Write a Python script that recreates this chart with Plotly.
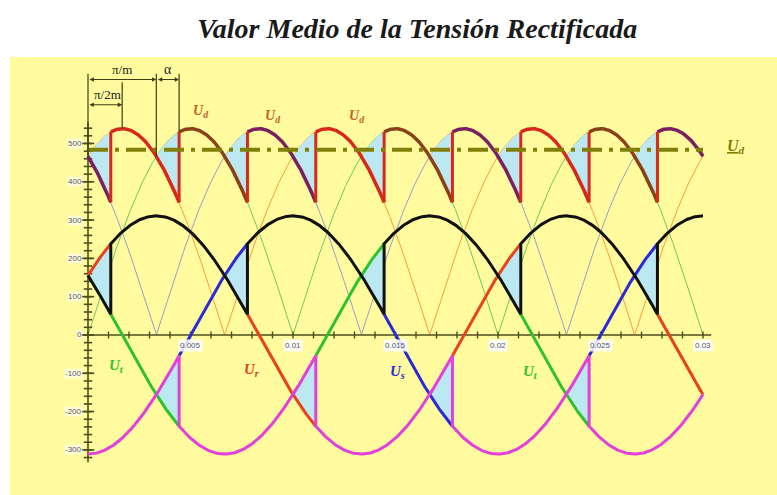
import numpy as np
import plotly.graph_objects as go

# ---------------- converter parameters ----------------
V_PEAK = 311.0          # peak phase voltage [V]
PERIOD = 0.02           # 50 Hz supply
ALPHA_DEG = 20.0        # firing delay angle
T_END = 0.03

# phases R, S, T: colour and instant of positive peak
PHASE_NAMES = ["r", "s", "t"]
PHASE_COLORS = ["#E8421E", "#2B2BD6", "#2EC22E"]
PHASE_PEAK_T = [PERIOD / 6, PERIOD / 2, 5 * PERIOD / 6]

# line voltages |u_i - u_j|: thin reference curves and rectified-segment colours
LINE_PAIRS = [(0, 1), (1, 2), (2, 0)]
LINE_THIN_COLORS = ["#FF9A3C", "#9C9CC8", "#6CCB5E"]
UD_SEGMENT_COLORS = ["#D8281C", "#7A2060", "#8A4018"]

# axis ticks
Y_TICKS = [-300, -200, -100, 0, 100, 200, 300, 400, 500]
X_TICKS = [0.005, 0.01, 0.015, 0.02, 0.025, 0.03]
X_TICK_LABELS = ["0.005", "0.01", "0.015", "0.02", "0.025", "0.03"]
Y_MINOR_STEP = 20
X_MINOR_STEP = 0.001

# phase-label positions (time, voltage)
PHASE_LABEL_T = [0.0014, 0.0080, 0.0151, 0.0216]
PHASE_LABEL_V = [-80, -92, -97, -97]
PHASE_LABEL_IDX = [2, 0, 1, 2]
UD_LABEL_T = [0.0055, 0.0090, 0.0131]
UD_LABEL_V = [583, 570, 570]

FILL_COLOR = "rgba(184,232,246,0.95)"
AXIS_COLOR = "#4E4E1C"
BG_YELLOW = "#FFFB9E"

omega = 2 * np.pi / PERIOD
alpha_t = ALPHA_DEG / 360.0 * PERIOD


def u(p, t):
    return V_PEAK * np.cos(omega * (np.asarray(t, dtype=float) - PHASE_PEAK_T[p]))


def firing_list(offset):
    """Firing instants (time, phase) of one commutation group."""
    out = []
    for p in range(3):
        t0 = PHASE_PEAK_T[p] + offset - PERIOD / 6 + alpha_t
        for k in range(-3, 4):
            tf = t0 + k * PERIOD
            if -PERIOD < tf < T_END:
                out.append((tf, p))
    return sorted(out)


pos_fire = firing_list(0.0)
neg_fire = firing_list(PERIOD / 2)


def active(fires, t):
    cur = None
    for tf, p in fires:
        if tf <= t:
            cur = p
    return cur


events = sorted({tf for tf, _ in pos_fire + neg_fire if 0 < tf < T_END})
bounds = [0.0] + events + [T_END]


def pair_index(a, b):
    s = {a, b}
    for i, (x, y) in enumerate(LINE_PAIRS):
        if {x, y} == s:
            return i


pos_t, pos_v, neg_t, neg_v = [], [], [], []
free_x = {p: [] for p in range(3)}
free_y = {p: [] for p in range(3)}
ud_x = {i: [] for i in range(3)}
ud_y = {i: [] for i in range(3)}
intervals = []
for a, b in zip(bounds[:-1], bounds[1:]):
    mid = 0.5 * (a + b)
    pp, pn = active(pos_fire, mid), active(neg_fire, mid)
    pf = 3 - pp - pn
    t = np.linspace(a, b, 80)
    pos_t += list(t); pos_v += list(u(pp, t))
    neg_t += list(t); neg_v += list(u(pn, t))
    free_x[pf] += list(t) + [None]; free_y[pf] += list(u(pf, t)) + [None]
    k = pair_index(pp, pn)
    ud_x[k] += list(t) + [None]; ud_y[k] += list(u(pp, t) - u(pn, t)) + [None]
    intervals.append((a, b, pp, pn))

# shaded areas lost by the firing delay, and vertical jumps of u_d
fill_x, fill_y, jump_x, jump_y = [], [], [], []
for i, tf in enumerate(events):
    a0, b0, pp0, pn0 = intervals[i]
    a1, b1, pp1, pn1 = intervals[i + 1]
    tc = max(tf - alpha_t, 0.0)
    t = np.linspace(tc, tf, 40)
    if pp0 != pp1:
        new, old = u(pp1, t), u(pp0, t)
    else:
        new, old = u(pn1, t), u(pn0, t)
    fill_x += list(t) + list(t[::-1]) + [None]
    fill_y += list(new) + list(old[::-1]) + [None]
    ud_new = u(pp1, t) - u(pn1, t)
    ud_old = u(pp0, t) - u(pn0, t)
    fill_x += list(t) + list(t[::-1]) + [None]
    fill_y += list(ud_new) + list(ud_old[::-1]) + [None]
    jump_x += [tf, tf, None]
    jump_y += [ud_old[-1], ud_new[-1], None]

ud_mean = 3 * np.sqrt(3) / np.pi * V_PEAK * np.cos(np.radians(ALPHA_DEG))

fig = go.Figure()

# thin line-voltage magnitudes
t_all = np.linspace(0, T_END, 1501)
for (i, j), c in zip(LINE_PAIRS, LINE_THIN_COLORS):
    fig.add_trace(go.Scatter(x=t_all, y=np.abs(u(i, t_all) - u(j, t_all)),
                             mode="lines", line=dict(color=c, width=1)))

fig.add_trace(go.Scatter(x=fill_x, y=fill_y, mode="lines", fill="toself",
                         fillcolor=FILL_COLOR, line=dict(width=0)))

# axes drawn at the origin
fig.add_trace(go.Scatter(x=[-0.0003, 0.0304], y=[0, 0], mode="lines",
                         line=dict(color=AXIS_COLOR, width=1.6)))
fig.add_trace(go.Scatter(x=[0, 0], y=[-332, 555], mode="lines",
                         line=dict(color=AXIS_COLOR, width=1.6)))
y_minor = np.arange(-320, 541, Y_MINOR_STEP)
fig.add_trace(go.Scatter(x=np.zeros(len(y_minor)), y=y_minor, mode="markers",
                         marker=dict(symbol="line-ew", size=6,
                                     line=dict(color=AXIS_COLOR, width=1.6))))
fig.add_trace(go.Scatter(x=np.zeros(len(Y_TICKS)), y=Y_TICKS, mode="markers",
                         marker=dict(symbol="line-ew", size=9,
                                     line=dict(color=AXIS_COLOR, width=1.6))))
x_minor = np.arange(0, T_END + 1e-9, X_MINOR_STEP)
fig.add_trace(go.Scatter(x=x_minor, y=np.zeros(len(x_minor)), mode="markers",
                         marker=dict(symbol="line-ns", size=5,
                                     line=dict(color=AXIS_COLOR, width=1.4))))

# phase voltages while not conducting
for p in range(3):
    fig.add_trace(go.Scatter(x=free_x[p], y=free_y[p], mode="lines",
                             line=dict(color=PHASE_COLORS[p], width=3)))

# positive and negative output rails
fig.add_trace(go.Scatter(x=pos_t, y=pos_v, mode="lines",
                         line=dict(color="#111111", width=3)))
fig.add_trace(go.Scatter(x=neg_t, y=neg_v, mode="lines",
                         line=dict(color="#E23FDC", width=3)))

# rectified voltage u_d
for k in range(3):
    fig.add_trace(go.Scatter(x=ud_x[k], y=ud_y[k], mode="lines",
                             line=dict(color=UD_SEGMENT_COLORS[k], width=3.5)))
fig.add_trace(go.Scatter(x=jump_x, y=jump_y, mode="lines",
                         line=dict(color="#D8281C", width=3)))

# mean value of u_d
fig.add_trace(go.Scatter(x=[0, T_END], y=[ud_mean, ud_mean], mode="lines",
                         line=dict(color="#7F7F0A", width=4, dash="20px,7px,4px,7px")))

ann = []
for yt in Y_TICKS:
    ann.append(dict(x=0, y=yt, text=str(yt), showarrow=False, xanchor="right",
                    xshift=-5, font=dict(size=8, color="#525A82", family="Arial"),
                    bgcolor="rgba(255,255,255,0.55)", borderpad=0))
for xt, lab in zip(X_TICKS, X_TICK_LABELS):
    ann.append(dict(x=xt, y=0, text=lab, showarrow=False, yanchor="top",
                    yshift=-4, font=dict(size=8, color="#46557E", family="Arial"),
                    bgcolor="rgba(255,255,255,0.85)", borderpad=1))

for tx, vy, p in zip(PHASE_LABEL_T, PHASE_LABEL_V, PHASE_LABEL_IDX):
    ann.append(dict(x=tx, y=vy, text="<b><i>U<sub>%s</sub></i></b>" % PHASE_NAMES[p],
                    showarrow=False, font=dict(size=15, color=PHASE_COLORS[p],
                                               family="Liberation Serif")))
for tx, vy in zip(UD_LABEL_T, UD_LABEL_V):
    ann.append(dict(x=tx, y=vy, text="<b><i>U<sub>d</sub></i></b>", showarrow=False,
                    font=dict(size=14, color="#C8622C", family="Liberation Serif")))
ann.append(dict(x=0.0316, y=ud_mean + 8, text="<b><i><u>U</u><sub>d</sub></i></b>",
                showarrow=False, font=dict(size=16, color="#7F7F0A",
                                           family="Liberation Serif")))

# dimension marks: pi/m, pi/2m and alpha
T6, T12 = PERIOD / 6, PERIOD / 12
dim_color = "#3E3E14"
ud_peak = np.sqrt(3) * V_PEAK
dim_x = [0, 0, None, T12, T12, None, T6, T6, None, T6 + alpha_t, T6 + alpha_t]
dim_y = [466, 682, None, ud_peak, 660, None, 466, 682, None,
         ud_peak * np.cos(np.radians(ALPHA_DEG - 30)), 682]
fig.add_trace(go.Scatter(x=dim_x, y=dim_y, mode="lines",
                         line=dict(color=dim_color, width=1.2)))
for x0, x1, yy in [(0, T6, 667), (T6, T6 + alpha_t, 667), (0, T12, 601)]:
    ann.append(dict(x=x1, y=yy, ax=x0, ay=yy, axref="x", ayref="y", xref="x", yref="y",
                    showarrow=True, arrowhead=2, arrowside="end+start", arrowsize=0.8,
                    arrowwidth=1.1, arrowcolor=dim_color, text=""))
ann.append(dict(x=T6 / 2, y=693, text="π/m", showarrow=False,
                font=dict(size=13, color="#222", family="Liberation Serif")))
ann.append(dict(x=T6 + alpha_t / 2, y=693, text="α", showarrow=False,
                font=dict(size=14, color="#222", family="Liberation Serif")))
ann.append(dict(x=T12 / 2 + 0.0001, y=628, text="π/2m", showarrow=False,
                font=dict(size=13, color="#222", family="Liberation Serif")))

fig.update_layout(
    width=777, height=495,
    margin=dict(l=10, r=0, t=57, b=0),
    paper_bgcolor="white", plot_bgcolor=BG_YELLOW,
    showlegend=False, hovermode=False,
    xaxis=dict(range=[-0.003805, 0.03361], visible=False),
    yaxis=dict(range=[-417.8, 725.8], visible=False),
    annotations=ann,
    title=dict(text="<b><i>Valor Medio de la Tensión Rectificada</i></b>",
               x=0.537, xanchor="center", y=1 - 28 / 495, yanchor="middle",
               font=dict(size=28, color="#1A1A1A", family="Liberation Serif")),
)

fig.write_html("out.html")
